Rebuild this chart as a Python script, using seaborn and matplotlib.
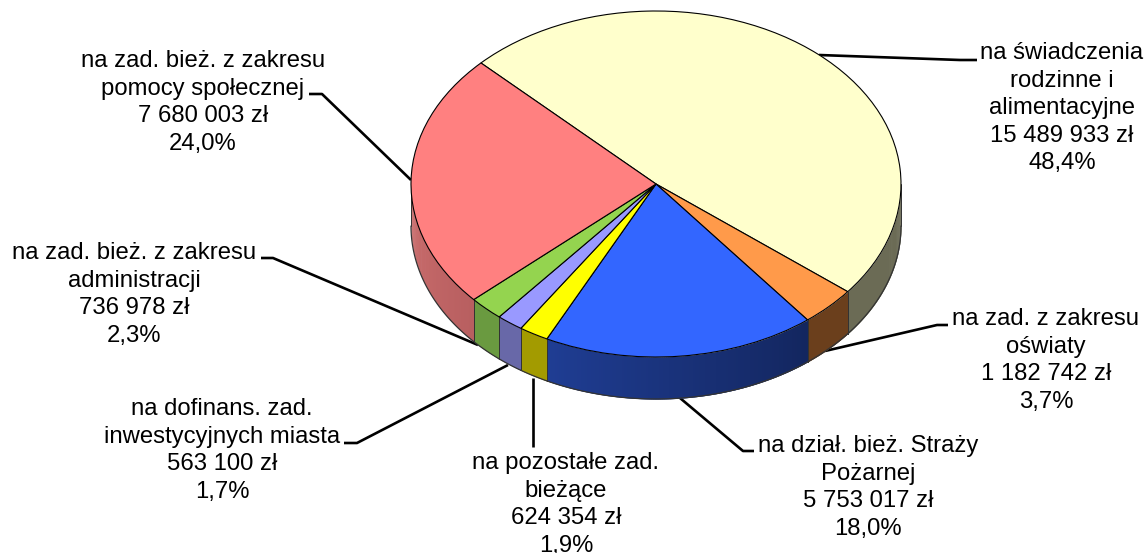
import numpy as np
import matplotlib
matplotlib.use("Agg")
import matplotlib.pyplot as plt
from matplotlib.transforms import Affine2D
import seaborn as sns

# ---- data ----
categories = ["na świadczenia\nrodzinne i\nalimentacyjne",
              "na zad. z zakresu\noświaty",
              "na dział. bież. Straży\nPożarnej",
              "na pozostałe zad.\nbieżące",
              "na dofinans. zad.\ninwestycyjnych miasta",
              "na zad. bież. z zakresu\nadministracji",
              "na zad. bież. z zakresu\npomocy społecznej"]
amounts = [15489933, 1182742, 5753017, 624354, 563100, 736978, 7680003]
amount_labels = ["15 489 933 zł", "1 182 742 zł", "5 753 017 zł", "624 354 zł",
                 "563 100 zł", "736 978 zł", "7 680 003 zł"]
percent_labels = ["48,4%", "3,7%", "18,0%", "1,9%", "1,7%", "2,3%", "24,0%"]

# ---- styles ----
top_colors = ["#FFFFCC", "#FF9A4A", "#3366FF", "#FFFF00", "#9999FF", "#94D44F", "#FF8080"]
side_colors = [("#6B6B55", "#6B6B55"), ("#6B3F1C", "#6B3F1C"), ("#13265F", "#1F3D93"),
               ("#A39B00", "#A39B00"), ("#6868A8", "#6868A8"), ("#6A9A40", "#6A9A40"),
               ("#B85F60", "#CC6E6E")]
label_xy = [(1062, 42), (1046, 308), (868, 435), (566, 452), (222, 398), (134, 242), (203, 50)]
leaders = [[(819, 55), (960, 60), (977, 60)],
           [(825, 351), (937, 325), (948, 325)],
           [(680, 398), (743, 451), (754, 451)],
           [(533, 378), (533, 447)],
           [(508, 365), (357, 443), (344, 443)],
           [(478, 345), (273, 258), (261, 258)],
           [(411, 180), (322, 94), (309, 94)]]

W, H = 1146, 553
CX, CY, RX, RY, DEPTH = 656, 184, 245, 173, 42
START = -45.6

sns.set_theme(style="white")
plt.rcParams["font.family"] = ["Liberation Sans", "DejaVu Sans"]

fig = plt.figure(figsize=(W / 100, H / 100), dpi=100, facecolor="white")
ax = fig.add_axes([0, 0, 1, 1])

ax.pie(amounts, colors=top_colors, startangle=90 - START, counterclock=False,
       radius=1, wedgeprops=dict(edgecolor="black", linewidth=0.8, zorder=5))
ax.set_aspect("auto")
ax.set_xlim(-CX / RX, (W - CX) / RX)
ax.set_ylim((CY - H) / RY, CY / RY)
ax.axis("off")

d = DEPTH / RY
fractions = np.array(amounts, dtype=float) / np.sum(amounts)
edges = START + 360 * np.concatenate([[0], np.cumsum(fractions)])

for i in range(len(amounts)):
    a0 = max(edges[i], 90)
    a1 = min(edges[i + 1], 270)
    if a1 <= a0:
        continue
    n = max(int((a1 - a0) * 2), 2)
    pal = sns.blend_palette(list(side_colors[i]), n)
    ts = np.linspace(a0, a1, n + 1)
    for k in range(n):
        # each strip reaches under the next one so that no seams show
        t = np.radians(np.linspace(ts[k], ts[min(k + 2, n)], 5))
        x = np.sin(t)
        y = np.cos(t)
        ax.fill_between(x, y - d, y, color=pal[k], linewidth=0, zorder=3)
    t = np.radians(np.linspace(a0, a1, 60))
    ax.plot(np.sin(t), np.cos(t) - d, color="#333333", lw=0.9, zorder=4)
    for a in (a0, a1):
        r = np.radians(a)
        ax.plot([np.sin(r)] * 2, [np.cos(r), np.cos(r) - d], color="#333333", lw=0.7, zorder=4)

# leaders and labels in picture pixels
pix = Affine2D().scale(1, -1).translate(0, H)
for pts in leaders:
    xs, ys = zip(*pts)
    ax.plot(xs, ys, color="black", lw=1.9, transform=pix, zorder=2,
            solid_capstyle="butt", clip_on=False)
for cat, am, pc, (lx, ly) in zip(categories, amount_labels, percent_labels, label_xy):
    ax.text(lx, ly, f"{cat}\n{am}\n{pc}", transform=pix, ha="center", va="top",
            fontsize=17.2, color="black", linespacing=1.33, zorder=6)

fig.savefig("out.png", dpi=100, facecolor="white")
